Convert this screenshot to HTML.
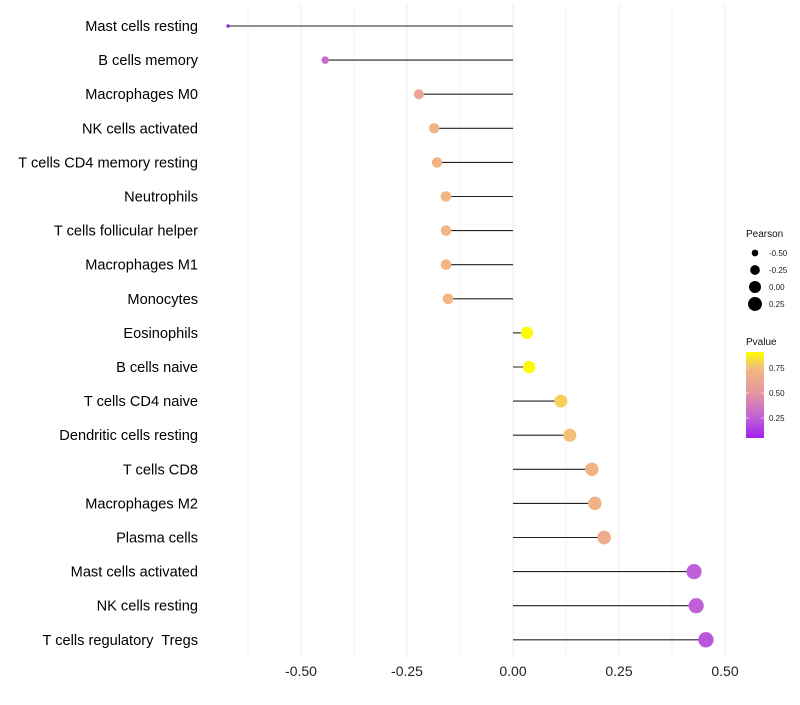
<!DOCTYPE html>
<html><head><meta charset="utf-8"><style>
body{margin:0;background:#fff;font-family:"Liberation Sans",sans-serif}
text{white-space:pre}
</style></head><body>
<svg id="chart" width="800" height="700" xmlns="http://www.w3.org/2000/svg"></svg>
<script>
const categories=["Mast cells resting","B cells memory","Macrophages M0","NK cells activated","T cells CD4 memory resting","Neutrophils","T cells follicular helper","Macrophages M1","Monocytes","Eosinophils","B cells naive","T cells CD4 naive","Dendritic cells resting","T cells CD8","Macrophages M2","Plasma cells","Mast cells activated","NK cells resting","T cells regulatory  Tregs"];
const pearson=[-0.672,-0.443,-0.222,-0.186,-0.179,-0.158,-0.158,-0.158,-0.153,0.033,0.038,0.113,0.134,0.186,0.193,0.215,0.427,0.432,0.455];
const pvalue=[0.05,0.3,0.6,0.7,0.7,0.72,0.72,0.72,0.72,0.9,0.9,0.8,0.76,0.7,0.7,0.65,0.25,0.25,0.22];
const xTicks=[-0.5,-0.25,0,0.25,0.5];
const xTickLabels=["-0.50","-0.25","0.00","0.25","0.50"];
const sizeLegend=[-0.5,-0.25,0,0.25];
const sizeLegendLabels=["-0.50","-0.25","0.00","0.25"];
const colorLegend=[0.75,0.5,0.25];

const svg=document.getElementById('chart');
const NS="http://www.w3.org/2000/svg";
function mk(t,a,p){const e=document.createElementNS(NS,t);for(const k in a)e.setAttribute(k,a[k]);(p||svg).appendChild(e);return e;}
const x=v=>513+v*424;
const y=i=>26+i*34.1;
const r=v=>Math.max(1.8,Math.sqrt(Math.max(0,36+50*v)));
const stops=[[0.05,[160,32,240]],[0.25,[192,96,216]],[0.5,[230,150,160]],[0.75,[242,186,128]],[0.91,[255,255,0]]];
function col(p){if(p<=stops[0][0])return `rgb(${stops[0][1]})`;for(let i=1;i<stops.length;i++){if(p<=stops[i][0]){const a=stops[i-1],b=stops[i],t=(p-a[0])/(b[0]-a[0]);return `rgb(${a[1].map((c,j)=>Math.round(c+(b[1][j]-c)*t))})`;}}return `rgb(${stops[stops.length-1][1]})`;}

for(let v=-0.625;v<=0.55;v+=0.125){
 const g=mk('line',{x1:x(v),x2:x(v),y1:5,y2:658,stroke:'#ebebeb','stroke-width':Math.abs(v*4-Math.round(v*4))<1e-6?1:0.6});
 
 
}
xTicks.forEach((v,i)=>{
 const t=mk('text',{x:x(v),y:676,'text-anchor':'middle','font-size':14,fill:'#222'});
 t.textContent=xTickLabels[i];
 
 
});
categories.forEach((c,i)=>{
 const t=mk('text',{x:198,y:y(i)+5,'text-anchor':'end','font-size':14.6,fill:'#000'});
 t.textContent=c;
 
 
 const l=mk('line',{x1:x(0),x2:x(pearson[i]),y1:y(i),y2:y(i),stroke:'#222','stroke-width':1.1});
 
 
 const d=mk('circle',{cx:x(pearson[i]),cy:y(i),r:r(pearson[i]),fill:col(pvalue[i])});
 
 
});
const lt=mk('text',{x:746,y:237,'font-size':10,fill:'#111'});lt.textContent='Pearson';


sizeLegend.forEach((v,i)=>{
 const cy=253+i*17;
 const c=mk('circle',{cx:755,cy:cy,r:r(v),fill:'#000'});
 
 
 const t=mk('text',{x:769,y:cy+3,'font-size':8,fill:'#222'});t.textContent=sizeLegendLabels[i];
 
 
});
const ct=mk('text',{x:746,y:345,'font-size':10,fill:'#111'});ct.textContent='Pvalue';


const defs=mk('defs',{});
const lg=mk('linearGradient',{id:'pg',x1:0,y1:1,x2:0,y2:0},defs);
stops.forEach(s=>mk('stop',{offset:(s[0]-0.05)/0.86,'stop-color':`rgb(${s[1]})`},lg));
const bar=mk('rect',{x:746,y:352,width:18,height:86,fill:'url(#pg)'});


colorLegend.forEach(v=>{
 const yy=443-v*100;
 mk('line',{x1:746,x2:749,y1:yy,y2:yy,stroke:'#fff','stroke-width':0.6});
 mk('line',{x1:761,x2:764,y1:yy,y2:yy,stroke:'#fff','stroke-width':0.6});
 const t=mk('text',{x:769,y:yy+3,'font-size':8,fill:'#222'});t.textContent=v.toFixed(2);
 
 
});
</script>
</body></html>
